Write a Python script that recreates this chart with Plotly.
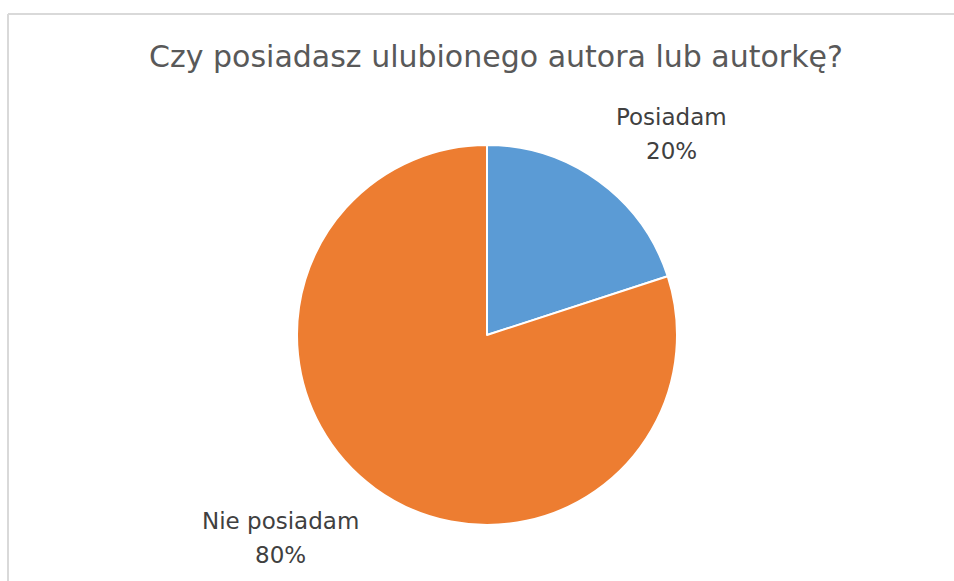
import plotly.graph_objects as go

labels = ["Posiadam", "Nie posiadam"]
values = [20, 80]
colors = ["#5B9BD5", "#ED7D31"]
title = "Czy posiadasz ulubionego autora lub autorkę?"

W, H = 954, 581
def px(x): return x / W
def py(y): return 1 - y / H

FONT = "DejaVu Sans"

fig = go.Figure(go.Pie(
    labels=labels, values=values, sort=False, direction="clockwise", rotation=0,
    marker=dict(colors=colors, line=dict(color="white", width=2)),
    textinfo="none", hoverinfo="label+percent", showlegend=False,
    domain=dict(x=[px(297), px(677)], y=[py(525), py(145)]),
))

total = sum(values)
label_pos = [(671, 117, 151), (280, 521, 555)]
ann = []
for lab, v, (x, y1, y2) in zip(labels, values, label_pos):
    ann.append(dict(x=px(x), y=py(y1), xref="paper", yref="paper", text=lab, showarrow=False,
                    font=dict(family=FONT, size=23, color="#404040"), xanchor="center", yanchor="middle"))
    ann.append(dict(x=px(x), y=py(y2), xref="paper", yref="paper", text=f"{round(100*v/total)}%", showarrow=False,
                    font=dict(family=FONT, size=23, color="#404040"), xanchor="center", yanchor="middle"))

fig.update_layout(
    width=W, height=H, margin=dict(l=0, r=0, t=0, b=0),
    paper_bgcolor="white", plot_bgcolor="white",
    title=dict(text=title, x=px(496), y=py(56), xanchor="center", yanchor="middle",
               font=dict(family=FONT, size=30, color="#595959")),
    annotations=ann,
    shapes=[
        dict(type="line", xref="paper", yref="paper", x0=px(8), x1=px(8), y0=0, y1=py(14),
             line=dict(color="#D9D9D9", width=2)),
        dict(type="line", xref="paper", yref="paper", x0=px(8), x1=1, y0=py(14), y1=py(14),
             line=dict(color="#D9D9D9", width=2)),
    ],
)
fig.write_html("out.html", config={"displayModeBar": False},
               post_script="document.body.style.margin='0';document.body.style.overflow='hidden';")
